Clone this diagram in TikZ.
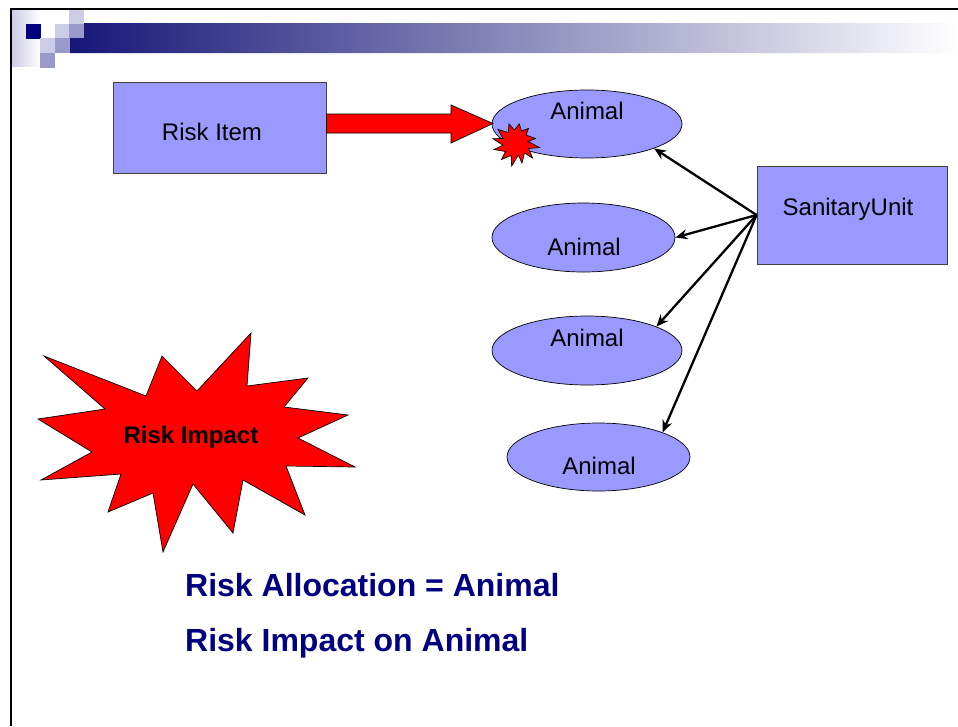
\documentclass[tikz,border=0pt]{standalone}
\usepackage{fontspec}
\setmainfont{Liberation Sans}
\usetikzlibrary{shapes.geometric,arrows.meta}
\definecolor{peri}{RGB}{153,153,255}
\definecolor{lightlav}{RGB}{204,204,230}
\definecolor{medlav}{RGB}{153,153,204}
\definecolor{navyblue}{RGB}{0,0,128}
\definecolor{barstart}{RGB}{22,22,120}
\tikzset{
  box/.style={draw=black!75, line width=0.8pt, fill=peri, minimum width=213pt, minimum height=91pt, inner sep=0pt},
  animal/.style={ellipse, draw=black, line width=0.7pt, fill=peri, inner sep=0pt},
  lbl/.style={font=\fontsize{24}{28}\selectfont, inner sep=0pt},
  big/.style={font=\fontsize{32}{38}\selectfont\bfseries, text=navyblue, inner sep=0pt, anchor=west},
  link/.style={line width=2.3pt, -{Stealth[length=12pt,width=10pt]}},
  burst/.style={fill=red, draw=black, line width=0.7pt, line join=miter},
}
\begin{document}
\begin{tikzpicture}[x=1pt,y=-1pt]
\useasboundingbox (0,0) rectangle (958,726);
\fill[white] (0,0) rectangle (958,726);
% header decoration
\shade[left color=lightlav, right color=white] (12,10) rectangle (40,66);
\shade[left color=barstart, right color=white] (84,23) -- (958,23) -- (958,53) -- (70,53) -- (70,38) -- (84,38) -- cycle;
\fill[navyblue] (26,24) rectangle (41,39);
\fill[lightlav] (69,10) rectangle (84,24);
\fill[lightlav] (55,24) rectangle (69,38);
\fill[lightlav] (40,38) rectangle (55,53);
\fill[medlav] (69,24) rectangle (84,38);
\fill[medlav] (55,38) rectangle (70,53);
\fill[medlav] (40,53) rectangle (55,68);
% frame
\draw[line width=2.5pt] (958,9) -- (11,9) -- (11,726);

% Risk Item
\node[box] (ri) at (219.5,127.5) {};
\node[lbl] (rit) at (212,132) {Risk Item};

% Animals
\node[animal, minimum width=190pt, minimum height=68pt] (a1) at (587,124) {};
\node[animal, minimum width=183pt, minimum height=69pt] (a2) at (583.5,237.5) {};
\node[animal, minimum width=190pt, minimum height=69pt] (a3) at (587,350.5) {};
\node[animal, minimum width=183pt, minimum height=68pt] (a4) at (598.5,457) {};
\node[lbl] (a1t) at (587,111) {Animal};
\node[lbl] (a2t) at (584,247) {Animal};
\node[lbl] (a3t) at (587,338) {Animal};
\node[lbl] (a4t) at (599,466) {Animal};

% SanitaryUnit
\node[box, minimum width=190pt, minimum height=98pt] (su) at (852,215) {};
\node[lbl] (sut) at (848,209) {SanitaryUnit};

% connectors
\draw[link] (su.west) -- (a1.-20);
\draw[link] (su.west) -- (a2.east);
\draw[link] (su.west) -- (a3.19);
\draw[link] (su.west) -- (a4.21);

% block arrow
\draw[burst] (ri.east |- 0,114) -- (451,114) -- (451,105) -- (493,123.5) -- (451,143) -- (451,133) -- (ri.east |- 0,133) -- cycle;

% small burst
\draw[burst] (509,124) -- (514.3,130) -- (519.3,124) -- (521.5,131) -- (528.5,128.5) -- (526,135) -- (535.5,138.5) -- (528,141.5) -- (539.5,147.5) -- (528.5,148.5) -- (532.5,158) -- (524.5,153) -- (522,163) -- (518.3,155) -- (511.7,166) -- (511,155.5) -- (501.5,159.5) -- (505.5,151.5) -- (494,149.5) -- (503,145.3) -- (493,138.7) -- (503,138.5) -- (498,129.5) -- (508.3,132.5) -- cycle;

% big burst
\draw[burst] (44,356) -- (146,396) -- (162,356) -- (197,391) -- (251,333) -- (247,386) -- (308,378) -- (284,407) -- (348,415) -- (298,438) -- (355,467) -- (286,466) -- (305,515) -- (243,480) -- (233,533) -- (193,484) -- (163,552) -- (153,493) -- (108,512) -- (121,474) -- (41,480) -- (92,452) -- (38,419) -- (105,409) -- cycle;
\node[lbl, font=\fontsize{24}{28}\selectfont\bfseries] (impact) at (191,437) {Risk Impact};

% bottom text
\node[big] (t1) at (185,585) {Risk Allocation = Animal};
\node[big] (t2) at (185,643) {Risk Impact on Animal};
\end{tikzpicture}
\end{document}
